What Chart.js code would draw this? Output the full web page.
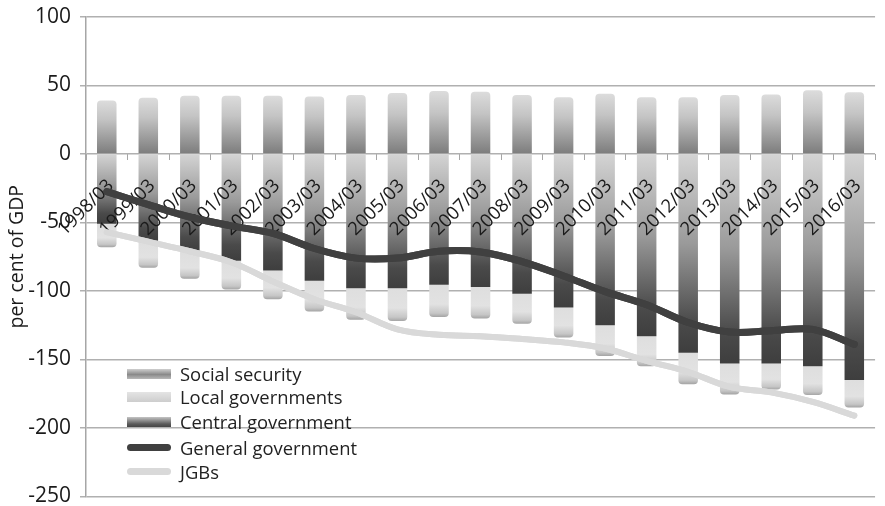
<!DOCTYPE html>
<html>
<head>
<meta charset="utf-8">
<title>Japan government debt by sector</title>
<script src="https://cdn.jsdelivr.net/npm/chart.js@4.4.1/dist/chart.umd.min.js"></script>
<style>
  html, body { margin: 0; padding: 0; background: #fff; }
  #wrap { position: relative; width: 885px; height: 506px; overflow: hidden; }
  #chart { position: absolute; left: 0; top: 0; }
  .legend { position: absolute; left: 127px; top: 0; font-family: "Open Sans", sans-serif; font-size: 18.4px; color: #222; }
  .row { position: absolute; left: 0; height: 24px; line-height: 24px; white-space: nowrap; }
  .sw { position: absolute; left: 0; width: 44px; }
  .lbl { position: absolute; left: 53px; top: 0; }
</style>
</head>
<body>
<div id="wrap">
  <canvas id="chart" width="885" height="506"></canvas>
  <div class="legend">
    <div class="row" style="top:362px"><div class="sw" style="top:7px;height:10px;background:linear-gradient(#cfcfcf,#8a8a8a 55%,#b8b8b8)"></div><span class="lbl">Social security</span></div>
    <div class="row" style="top:385px"><div class="sw" style="top:7px;height:10px;background:linear-gradient(#e4e4e4,#cdcdcd)"></div><span class="lbl">Local governments</span></div>
    <div class="row" style="top:410px"><div class="sw" style="top:7px;height:10px;background:linear-gradient(#c4c4c4,#5a5a5a 70%,#454545)"></div><span class="lbl">Central government</span></div>
    <div class="row" style="top:436px"><div class="sw" style="top:8px;height:7px;border-radius:4px;background:#404040"></div><span class="lbl">General government</span></div>
    <div class="row" style="top:460px"><div class="sw" style="top:8px;height:7px;border-radius:4px;background:#d9d9d9"></div><span class="lbl">JGBs</span></div>
  </div>
</div>
<script>
// Fiscal years (end of March)
const categories = ["1998/03","1999/03","2000/03","2001/03","2002/03","2003/03","2004/03","2005/03","2006/03","2007/03",
                    "2008/03","2009/03","2010/03","2011/03","2012/03","2013/03","2014/03","2015/03","2016/03"];

// Net financial position by sector, per cent of GDP
const socialSecurity = [39, 41, 42.5, 42.5, 42.5, 42, 43, 44.5, 46, 45.5, 43, 41.5, 44, 41.5, 41.5, 43, 43.5, 46.5, 45];
const centralGovernment = [-51, -64, -71.5, -78, -85, -92.5, -98, -98, -95.5, -97, -102, -112, -125, -133, -145, -153, -153, -155, -165];
const localGovernments = [-17, -19, -19.5, -21, -21, -22.5, -23, -24, -23.5, -23, -22, -22, -22.5, -22, -23, -22.5, -19, -21, -20];
const generalGovernment = [-27.5, -37, -46, -52.5, -58, -69, -76, -76, -71, -71.5, -78.5, -89, -100.5, -110, -123, -130, -129, -128, -139];
const jgbs = [-57, -64, -71, -79, -93, -106, -115.5, -128, -132, -133, -135, -137.5, -142, -151, -159, -170, -174, -181, -191];

// Value axis ticks
const yTicks = [100, 50, 0, -50, -100, -150, -200, -250];

function vGradient(ctx, from, to, stops) {
  const chart = ctx.chart;
  if (!chart.chartArea || !chart.scales.y) return stops[0][1];
  const y = chart.scales.y;
  const y0 = y.getPixelForValue(from), y1 = y.getPixelForValue(to);
  if (!isFinite(y0) || !isFinite(y1) || y0 === y1) return stops[0][1];
  const g = chart.ctx.createLinearGradient(0, y0, 0, y1);
  stops.forEach(s => g.addColorStop(s[0], s[1]));
  return g;
}

// Draw the line series again after the axis labels so they sit on top
const linesOnTop = {
  id: 'linesOnTop',
  afterDraw(chart) {
    chart.data.datasets.forEach((ds, i) => {
      if (ds.type === 'line') {
        const meta = chart.getDatasetMeta(i);
        if (!meta.hidden) {
          const ctx = chart.ctx;
          ctx.save();
          meta.controller.draw();
          ctx.restore();
        }
      }
    });
  }
};

new Chart(document.getElementById('chart'), {
  type: 'bar',
  data: {
    labels: categories,
    datasets: [
      {
        label: 'Social security',
        data: socialSecurity,
        stack: 'sectors',
        backgroundColor: ctx => vGradient(ctx, socialSecurity[ctx.dataIndex], 0,
          [[0, '#dcdcdc'], [0.35, '#c4c4c4'], [1, '#7c7c7c']]),
        borderRadius: { topLeft: 4, topRight: 4, bottomLeft: 0, bottomRight: 0 },
        borderSkipped: false,
        order: 3
      },
      {
        label: 'Central government',
        data: centralGovernment,
        stack: 'sectors',
        backgroundColor: ctx => vGradient(ctx, 0, centralGovernment[ctx.dataIndex],
          [[0, '#d4d4d4'], [0.45, '#9a9a9a'], [0.85, '#4a4a4a'], [1, '#3e3e3e']]),
        order: 3
      },
      {
        label: 'Local governments',
        data: localGovernments,
        stack: 'sectors',
        backgroundColor: ctx => {
          const top = centralGovernment[ctx.dataIndex];
          return vGradient(ctx, top, top + localGovernments[ctx.dataIndex],
            [[0, '#dedede'], [0.6, '#e2e2e2'], [0.88, '#c6c6c6'], [1, '#a4a4a4']]);
        },
        borderRadius: { topLeft: 0, topRight: 0, bottomLeft: 4, bottomRight: 4 },
        borderSkipped: false,
        order: 3
      },
      {
        type: 'line',
        label: 'General government',
        data: generalGovernment,
        stack: 'gg',
        borderColor: '#404040',
        borderWidth: 7,
        pointRadius: 0,
        tension: 0.35,
        borderCapStyle: 'round',
        fill: false,
        order: 1
      },
      {
        type: 'line',
        label: 'JGBs',
        data: jgbs,
        stack: 'jgb',
        borderColor: '#d9d9d9',
        borderWidth: 6,
        pointRadius: 0,
        tension: 0.35,
        borderCapStyle: 'round',
        fill: false,
        order: 2
      }
    ]
  },
  options: {
    responsive: false,
    animation: false,
    layout: { padding: { top: 17, right: 0, bottom: 9, left: 0 } },
    plugins: { legend: { display: false }, tooltip: { enabled: false } },
    datasets: { bar: { categoryPercentage: 1, barPercentage: 0.47 } },
    scales: {
      x: {
        stacked: true,
        position: { y: 0 },
        grid: { display: true, drawOnChartArea: false, drawTicks: true, tickLength: 6, color: '#a6a6a6', offset: true },
        border: { display: false },
        ticks: {
          z: 1,
          autoSkip: false, minRotation: 45, maxRotation: 45, padding: 15, labelOffset: 4,
          color: '#1a1a1a', font: { family: 'Open Sans', size: 18.5 }
        }
      },
      y: {
        stacked: true,
        min: -250, max: 100,
        afterFit: s => { s.width = 86; },
        afterBuildTicks: s => { s.ticks = yTicks.map(v => ({ value: v })); },
        grid: { color: '#b0b0b0', lineWidth: 1.5, tickLength: 6 },
        border: { display: true, color: '#a6a6a6', width: 1.5 },
        ticks: { padding: 9, color: '#1a1a1a', font: { family: 'Open Sans', size: 21, lineHeight: 0.05 } },
        title: { display: true, text: 'per cent of GDP', color: '#1a1a1a', padding: { top: 6, bottom: 0 },
                 font: { family: 'Open Sans', size: 19.5 } }
      }
    }
  },
  plugins: [linesOnTop]
});
</script>
</body>
</html>
